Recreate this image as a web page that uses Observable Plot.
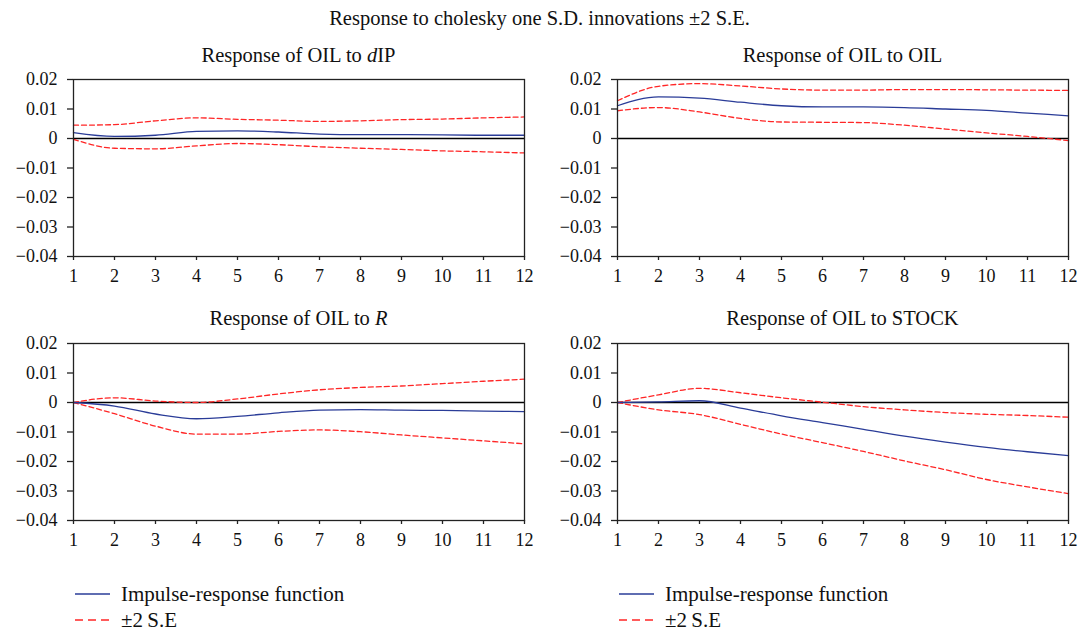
<!DOCTYPE html>
<html>
<head>
<meta charset="utf-8">
<script src="https://cdn.jsdelivr.net/npm/d3@7"></script>
<script src="https://cdn.jsdelivr.net/npm/@observablehq/plot@0.6"></script>
<style>
  html, body { margin: 0; padding: 0; background: #fff; }
  #root { position: relative; width: 1079px; height: 632px; font-family: "Liberation Serif", "Times New Roman", serif; color: #111; overflow: hidden; }
  .title { position: absolute; left: 0; width: 1079px; text-align: center; font-size: 20.5px; top: 7px; }
  .ptitle { position: absolute; text-align: center; font-size: 20.5px; white-space: nowrap; }
  .panel { position: absolute; }
  .legend { position: absolute; font-size: 21px; }
  .legrow { position: absolute; white-space: nowrap; display: flex; align-items: center; }
  .legrow svg { margin-right: 11px; }
</style>
</head>
<body>
<div id="root">
  <div class="title">Response to cholesky one S.D. innovations ±2 S.E.</div>
</div>
<script>
// Horizons (periods) and y tick values
const periods = [1, 2, 3, 4, 5, 6, 7, 8, 9, 10, 11, 12];
const yTicks = [0.02, 0.01, 0, -0.01, -0.02, -0.03, -0.04];

// Panel titles
const panelTitles = [
  "Response of OIL to <i>d</i>IP",
  "Response of OIL to OIL",
  "Response of OIL to <i>R</i>",
  "Response of OIL to STOCK"
];

// Response of OIL to dIP
const dipIrf   = [0.0020, 0.0007, 0.0011, 0.0024, 0.0026, 0.0022, 0.0015, 0.0013, 0.0013, 0.0012, 0.0011, 0.0011];
const dipUpper = [0.0045, 0.0047, 0.0060, 0.0070, 0.0065, 0.0062, 0.0058, 0.0060, 0.0064, 0.0066, 0.0070, 0.0073];
const dipLower = [-0.0003, -0.0033, -0.0035, -0.0025, -0.0017, -0.0021, -0.0028, -0.0033, -0.0037, -0.0042, -0.0045, -0.0049];

// Response of OIL to OIL
const oilIrf   = [0.0111, 0.0141, 0.0137, 0.0123, 0.0111, 0.0107, 0.0107, 0.0105, 0.0100, 0.0095, 0.0086, 0.0077];
const oilUpper = [0.0128, 0.0177, 0.0186, 0.0178, 0.0168, 0.0164, 0.0164, 0.0166, 0.0166, 0.0165, 0.0164, 0.0163];
const oilLower = [0.0094, 0.0105, 0.0090, 0.0068, 0.0056, 0.0055, 0.0054, 0.0045, 0.0032, 0.0019, 0.0007, -0.0007];

// Response of OIL to R
const rIrf   = [0, -0.0012, -0.0039, -0.0055, -0.0047, -0.0035, -0.0026, -0.0024, -0.0026, -0.0027, -0.0029, -0.0031];
const rUpper = [0, 0.0016, 0.0005, 0.0000, 0.0012, 0.0029, 0.0043, 0.0051, 0.0056, 0.0064, 0.0072, 0.0079];
const rLower = [0, -0.0038, -0.0080, -0.0107, -0.0107, -0.0098, -0.0093, -0.0099, -0.0110, -0.0120, -0.0130, -0.0140];

// Response of OIL to STOCK
const stockIrf   = [0, 0.0002, 0.0006, -0.0019, -0.0045, -0.0068, -0.0091, -0.0114, -0.0134, -0.0152, -0.0167, -0.0180];
const stockUpper = [0, 0.0026, 0.0048, 0.0033, 0.0016, 0.0001, -0.0014, -0.0025, -0.0034, -0.0040, -0.0044, -0.0050];
const stockLower = [0, -0.0025, -0.0041, -0.0074, -0.0107, -0.0136, -0.0166, -0.0198, -0.0228, -0.0261, -0.0286, -0.0309];

const legendLabels = ["Impulse-response function", "±2\u2009S.E"];

const BLUE = "#2a3c98";
const RED = "#ff2626";
const FONT = "Liberation Serif, Times New Roman, serif";

const series = [
  [dipIrf, dipUpper, dipLower],
  [oilIrf, oilUpper, oilLower],
  [rIrf, rUpper, rLower],
  [stockIrf, stockUpper, stockLower]
];

const layouts = [
  {left: 0,   top: 70,  width: 540, mL: 73, mR: 16, tTop: 44},
  {left: 540, top: 70,  width: 539, mL: 77, mR: 11, tTop: 44},
  {left: 0,   top: 334, width: 540, mL: 73, mR: 16, tTop: 307},
  {left: 540, top: 334, width: 539, mL: 77, mR: 11, tTop: 307}
];

const fmtY = d => d === 0 ? "0" : (d < 0 ? "\u2212" : "") + Math.abs(d).toFixed(2);
const root = document.getElementById("root");

layouts.forEach((L, i) => {
  const [irf, up, lo] = series[i];
  const toRows = arr => periods.map((p, k) => ({x: p, y: arr[k]}));
  const plot = Plot.plot({
    width: L.width, height: 220,
    marginLeft: L.mL, marginRight: L.mR, marginTop: 9, marginBottom: 34,
    style: {fontFamily: FONT, fontSize: "18px", color: "#111", background: "transparent", overflow: "visible"},
    x: {domain: [1, 12], axis: null, label: null},
    y: {domain: [-0.04, 0.02], axis: null, label: null},
    marks: [
      Plot.ruleY([0], {stroke: "#000", strokeWidth: 1.3}),
      Plot.line(toRows(up), {x: "x", y: "y", stroke: RED, strokeWidth: 1.3, strokeDasharray: "5,3", curve: "monotone-x"}),
      Plot.line(toRows(lo), {x: "x", y: "y", stroke: RED, strokeWidth: 1.3, strokeDasharray: "5,3", curve: "monotone-x"}),
      Plot.line(toRows(irf), {x: "x", y: "y", stroke: BLUE, strokeWidth: 1.3, curve: "monotone-x"}),
      Plot.frame({stroke: "#222", strokeWidth: 1.3}),
      Plot.axisY({ticks: yTicks, tickFormat: fmtY, label: null, tickSize: 6, tickPadding: 10, stroke: "#222", strokeWidth: 1.3, fontSize: 18, fontFamily: FONT}),
      Plot.axisX({ticks: periods, tickFormat: d => String(d), label: null, tickSize: 4, tickPadding: 9, stroke: "#222", strokeWidth: 1.3, fontSize: 18, fontFamily: FONT})
    ]
  });
  const div = document.createElement("div");
  div.className = "panel";
  div.style.left = L.left + "px";
  div.style.top = L.top + "px";
  div.appendChild(plot);
  root.appendChild(div);

  const t = document.createElement("div");
  t.className = "ptitle";
  const x0 = L.left + L.mL, x1 = L.left + L.width - L.mR;
  t.style.left = x0 + "px";
  t.style.width = (x1 - x0) + "px";
  t.style.top = L.tTop + "px";
  t.innerHTML = panelTitles[i];
  root.appendChild(t);
});

// Legends (one under each column)
[75, 619].forEach(lx => {
  [{y: 594, dash: null, color: BLUE, label: legendLabels[0]}, {y: 620, dash: "8,5", color: RED, label: legendLabels[1]}].forEach(r => {
    const row = document.createElement("div");
    row.className = "legrow legend";
    row.style.left = lx + "px";
    row.style.top = (r.y - 12) + "px";
    row.style.height = "24px";
    row.innerHTML = `<svg width="35" height="4"><line x1="0" x2="35" y1="2" y2="2" stroke="${r.color}" stroke-width="1.3" ${r.dash ? `stroke-dasharray="${r.dash}"` : ""}/></svg><span>${r.label}</span>`;
    root.appendChild(row);
  });
});
</script>
</body>
</html>
